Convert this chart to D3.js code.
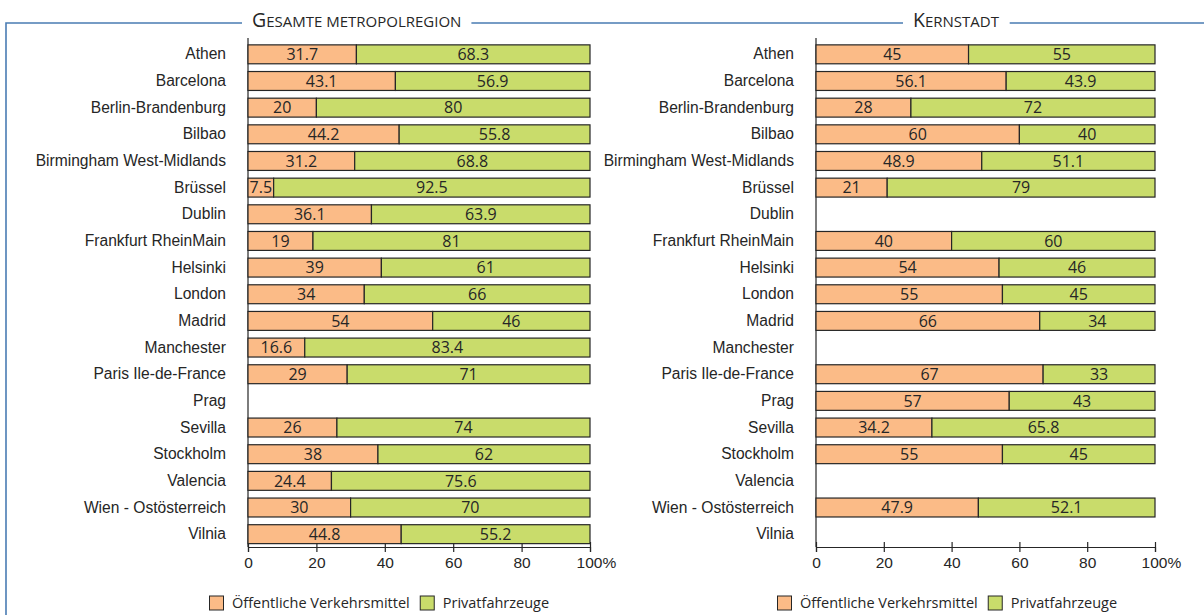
<!DOCTYPE html>
<html>
<head>
<meta charset="utf-8">
<script src="https://cdn.jsdelivr.net/npm/d3@7"></script>
<style>
  body { margin: 0; background: #fff; }
  svg { display: block; font-family: "Open Sans", sans-serif; }
  text { fill: #262626; }
</style>
</head>
<body>
<svg id="chart" width="1204" height="615"></svg>
<script>
// data
const cities = ["Athen", "Barcelona", "Berlin-Brandenburg", "Bilbao", "Birmingham West-Midlands",
  "Brüssel", "Dublin", "Frankfurt RheinMain", "Helsinki", "London", "Madrid", "Manchester",
  "Paris Ile-de-France", "Prag", "Sevilla", "Stockholm", "Valencia", "Wien - Ostösterreich", "Vilnia"];

const metroPublic  = [31.7, 43.1, 20, 44.2, 31.2, 7.5, 36.1, 19, 39, 34, 54, 16.6, 29, null, 26, 38, 24.4, 30, 44.8];
const metroPrivate = [68.3, 56.9, 80, 55.8, 68.8, 92.5, 63.9, 81, 61, 66, 46, 83.4, 71, null, 74, 62, 75.6, 70, 55.2];
const corePublic   = [45, 56.1, 28, 60, 48.9, 21, null, 40, 54, 55, 66, null, 67, 57, 34.2, 55, null, 47.9, null];
const corePrivate  = [55, 43.9, 72, 40, 51.1, 79, null, 60, 46, 45, 34, null, 33, 43, 65.8, 45, null, 52.1, null];

const xTicks = [0, 20, 40, 60, 80, 100];
const seriesNames = ["Öffentliche Verkehrsmittel", "Privatfahrzeuge"];
const panelTitles = ["Gesamte metropolregion", "Kernstadt"];

const colors = ["#fbbb87", "#c9dc6b"];
const svg = d3.select("#chart");

// blue frame line, titles cut gaps into it
const frameY = 23;
svg.append("path")
  .attr("d", `M6,615V${frameY}H1204`)
  .attr("fill", "none")
  .attr("stroke", "#4a7cb3")
  .attr("stroke-width", 1.6);

const y = d3.scaleBand()
  .domain(cities)
  .range([41, 547.5])
  .paddingInner(0.29)
  .paddingOuter(0.145);

const axisY = 547;

function drawPanel(x0, x1, title, titleX, pub, priv) {
  const x = d3.scaleLinear().domain([0, 100]).range([x0, x1]);
  const g = svg.append("g");

  // title in small caps (first letter big, rest smaller capitals)
  const t = g.append("text")
    .attr("x", titleX)
    .attr("y", frameY + 4);
  t.append("tspan").style("font-size", "19.5px").text(title[0].toUpperCase());
  t.append("tspan").style("font-size", "15px").text(title.slice(1).toUpperCase());
  const bb = t.node().getBBox();
  g.insert("rect", "text")
    .attr("x", bb.x - 10).attr("y", frameY - 3)
    .attr("width", bb.width + 20).attr("height", 6)
    .attr("fill", "#fff");

  // x axis
  const xa = g.append("g")
    .attr("transform", `translate(0,${axisY})`)
    .call(d3.axisBottom(x).tickValues(xTicks).tickSizeOuter(0).tickSize(5)
      .tickFormat(d => d === 100 ? "100%" : d));
  xa.select(".domain").attr("stroke", "#262626").attr("stroke-width", 1.2);
  xa.selectAll(".tick line").attr("y1", -5).attr("y2", 5).attr("stroke", "#262626").attr("stroke-width", 1.2);
  xa.selectAll(".tick text")
    .attr("y", 10)
    .style("font-size", "15.5px")
    .attr("fill", "#262626")
    .attr("dx", d => d === 100 ? "0.38em" : 0);

  // y axis with city names
  const ya = g.append("g")
    .attr("transform", `translate(${x0},0)`)
    .call(d3.axisLeft(y).tickSize(0).tickPadding(22).tickSizeOuter(0));
  ya.select(".domain").attr("stroke", "#262626").attr("stroke-width", 1.2)
    .attr("d", `M0,38V${axisY}`);
  ya.selectAll(".tick text").style("font-size", "15.6px").attr("fill", "#262626");

  // stacked bars
  const rows = cities.map((c, i) => ({ city: c, pub: pub[i], priv: priv[i] }))
    .filter(d => d.pub != null);

  const segs = [];
  rows.forEach(d => {
    segs.push({ city: d.city, start: 0, val: d.pub, k: 0 });
    segs.push({ city: d.city, start: d.pub, val: d.priv, k: 1 });
  });

  g.selectAll(".bar")
    .data(segs)
    .enter()
    .append("rect")
    .classed("bar", true)
    .attr("x", d => x(d.start))
    .attr("y", d => y(d.city))
    .attr("width", d => x(d.start + d.val) - x(d.start))
    .attr("height", y.bandwidth())
    .attr("fill", d => colors[d.k])
    .attr("stroke", "#262626")
    .attr("stroke-width", 1.2);

  g.selectAll(".val")
    .data(segs)
    .enter()
    .append("text")
    .classed("val", true)
    .attr("x", d => (x(d.start) + x(d.start + d.val)) / 2)
    .attr("y", d => y(d.city) + y.bandwidth() / 2)
    .attr("dy", "0.36em")
    .attr("text-anchor", "middle")
    .style("font-size", "16px")
    .text(d => d.val);

  // legend, second item placed after the first text
  const lg = g.append("g").attr("transform", `translate(${x0 - 39},603)`);
  let lx = 0;
  seriesNames.forEach((name, i) => {
    const item = lg.append("g").attr("transform", `translate(${lx},0)`);
    item.append("rect")
      .attr("x", 0.5).attr("y", -7)
      .attr("width", 14).attr("height", 14)
      .attr("fill", colors[i])
      .attr("stroke", "#262626")
      .attr("stroke-width", 1);
    const txt = item.append("text")
      .attr("x", 23).attr("dy", "0.35em")
      .style("font-size", "14.5px")
      .text(name);
    lx += 23 + txt.node().getComputedTextLength() + 10;
  });
}

drawPanel(248, 590, panelTitles[0], 252, metroPublic, metroPrivate);
drawPanel(816, 1155, panelTitles[1], 913, corePublic, corePrivate);
</script>
</body>
</html>
